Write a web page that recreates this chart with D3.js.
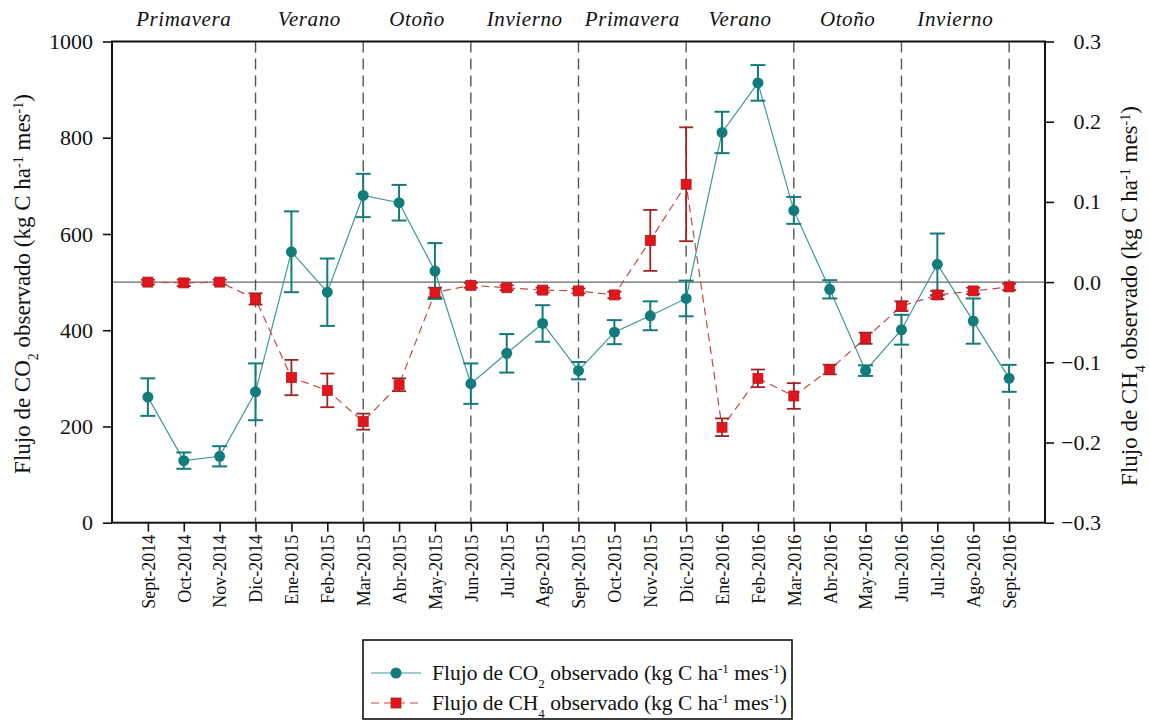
<!DOCTYPE html>
<html>
<head>
<meta charset="utf-8">
<script src="https://cdn.jsdelivr.net/npm/d3@7/dist/d3.min.js"></script>
<style>
  html, body { margin: 0; padding: 0; background: #fff; }
  svg { display: block; }
</style>
</head>
<body>
<svg id="chart" width="1149" height="721"></svg>
<script>
// Monthly observations, Sept 2014 – Sept 2016
const months = ["Sept-2014","Oct-2014","Nov-2014","Dic-2014","Ene-2015","Feb-2015","Mar-2015","Abr-2015","May-2015","Jun-2015","Jul-2015","Ago-2015","Sept-2015","Oct-2015","Nov-2015","Dic-2015","Ene-2016","Feb-2016","Mar-2016","Abr-2016","May-2016","Jun-2016","Jul-2016","Ago-2016","Sept-2016"];

// CO2 flux (kg C ha-1 mes-1) and its error
const co2 = [261,129,138,272,563,479,680,665,523,289,352,414,316,396,430,466,811,914,649,485,316,401,537,419,300];
const co2Err = [39,17,21,59,84,70,45,37,58,42,40,38,18,25,30,37,43,37,28,19,11,31,64,47,28];

// CH4 flux (kg C ha-1 mes-1) and its error
const ch4 = [0.000,-0.001,0.000,-0.021,-0.119,-0.135,-0.174,-0.128,-0.013,-0.004,-0.007,-0.010,-0.011,-0.016,0.052,0.122,-0.181,-0.120,-0.142,-0.109,-0.070,-0.030,-0.016,-0.011,-0.006];
const ch4Err = [0.003,0.004,0.003,0.007,0.022,0.021,0.010,0.008,0.006,0.003,0.003,0.003,0.003,0.004,0.038,0.071,0.011,0.011,0.016,0.006,0.007,0.006,0.005,0.004,0.004];

// Season dividers (months where a new season starts) and season names
const seasonBreaks = ["Dic-2014","Mar-2015","Jun-2015","Sept-2015","Dic-2015","Mar-2016","Jun-2016","Sept-2016"];
const seasons = ["Primavera","Verano","Otoño","Invierno","Primavera","Verano","Otoño","Invierno"];

const leftTicks = [0,200,400,600,800,1000];
const rightTicks = [-0.3,-0.2,-0.1,0.0,0.1,0.2,0.3];

const FONT = "'Liberation Serif', 'Times New Roman', Times, serif";

const m = { left: 112, right: 1045, top: 41.5, bottom: 522.7 };
const svg = d3.select("#chart").style("font-family", FONT);

const x = d3.scalePoint().domain(months).range([m.left, m.right]).padding(1);
const yL = d3.scaleLinear().domain([0, 1000]).range([m.bottom, m.top]);
const yR = d3.scaleLinear().domain([-0.3, 0.3]).range([m.bottom, m.top]);

const teal = "#127c7c", tealLine = "#3f9797";
const red = "#e3141a", redDark = "#a32222", redLine = "#c44a45";

// Season dividers
svg.append("g").selectAll("line").data(seasonBreaks).join("line")
  .attr("x1", d => x(d)).attr("x2", d => x(d))
  .attr("y1", m.top).attr("y2", m.bottom)
  .attr("stroke", "#555").attr("stroke-width", 1.4)
  .attr("stroke-dasharray", "11,6");

// Season names, centred between dividers
const bounds = [m.left].concat(seasonBreaks.map(d => x(d)));
svg.append("g").selectAll("text").data(seasons).join("text")
  .attr("x", (d, i) => (bounds[i] + bounds[i + 1]) / 2)
  .attr("y", 26)
  .attr("text-anchor", "middle")
  .attr("fill", "#111")
  .style("font-style", "italic")
  .style("font-size", "21px")
  .attr("letter-spacing", 0.6)
  .text(d => d);

// Zero reference line for CH4
svg.append("line")
  .attr("x1", m.left).attr("x2", m.right)
  .attr("y1", yR(0)).attr("y2", yR(0))
  .attr("stroke", "#444").attr("stroke-width", 1);

// Axes
const axL = svg.append("g").attr("transform", `translate(${m.left},0)`)
  .call(d3.axisLeft(yL).tickValues(leftTicks).tickSize(9).tickPadding(10).tickFormat(d3.format("d")));
const axR = svg.append("g").attr("transform", `translate(${m.right},0)`)
  .call(d3.axisRight(yR).tickValues(rightTicks).tickSize(9).tickPadding(9).tickFormat(d3.format(".1f")));
const axB = svg.append("g").attr("transform", `translate(0,${m.bottom})`)
  .call(d3.axisBottom(x).tickSize(9).tickPadding(6));

[axL, axR, axB].forEach(a => {
  a.attr("font-family", null);
  a.select(".domain").remove();
  a.selectAll(".tick line").attr("stroke", "#111").attr("stroke-width", 1.6);
  a.selectAll("text").style("font-family", FONT).attr("fill", "#111");
});
axL.selectAll("text").style("font-size", "22px");
// right-hand labels are right-aligned in a column
axR.selectAll("text").style("font-size", "22px")
  .attr("text-anchor", "end").attr("x", 56);
axB.selectAll("text")
  .style("font-size", "18px")
  .attr("transform", "rotate(-90)")
  .attr("text-anchor", "end")
  .attr("x", -12).attr("y", 0).attr("dy", "0.35em");

// Frame
svg.append("rect")
  .attr("x", m.left).attr("y", m.top)
  .attr("width", m.right - m.left).attr("height", m.bottom - m.top)
  .attr("fill", "none").attr("stroke", "#111").attr("stroke-width", 2);

// CO2 series
const gC = svg.append("g");
gC.append("path").datum(co2)
  .attr("fill", "none").attr("stroke", tealLine).attr("stroke-width", 1.2)
  .attr("d", d3.line().x((d, i) => x(months[i])).y(d => yL(d)));
const co2Bars = gC.selectAll("g.eb").data(co2).join("g").attr("class", "eb");
co2Bars.append("line")
  .attr("x1", (d, i) => x(months[i])).attr("x2", (d, i) => x(months[i]))
  .attr("y1", (d, i) => yL(d + co2Err[i])).attr("y2", (d, i) => yL(d - co2Err[i]))
  .attr("stroke", teal).attr("stroke-width", 2);
[1, -1].forEach(s => {
  co2Bars.append("line")
    .attr("x1", (d, i) => x(months[i]) - 7.5).attr("x2", (d, i) => x(months[i]) + 7.5)
    .attr("y1", (d, i) => yL(d + s * co2Err[i])).attr("y2", (d, i) => yL(d + s * co2Err[i]))
    .attr("stroke", teal).attr("stroke-width", 2);
});
gC.selectAll("circle").data(co2).join("circle")
  .attr("cx", (d, i) => x(months[i])).attr("cy", d => yL(d))
  .attr("r", 5.5).attr("fill", teal);

// CH4 series
const gM = svg.append("g");
gM.append("path").datum(ch4)
  .attr("fill", "none").attr("stroke", redLine).attr("stroke-width", 1.2)
  .attr("stroke-dasharray", "8,5")
  .attr("d", d3.line().x((d, i) => x(months[i])).y(d => yR(d)));
const ch4Bars = gM.selectAll("g.eb").data(ch4).join("g").attr("class", "eb");
ch4Bars.append("line")
  .attr("x1", (d, i) => x(months[i])).attr("x2", (d, i) => x(months[i]))
  .attr("y1", (d, i) => yR(d + ch4Err[i])).attr("y2", (d, i) => yR(d - ch4Err[i]))
  .attr("stroke", redDark).attr("stroke-width", 1.8);
[1, -1].forEach(s => {
  ch4Bars.append("line")
    .attr("x1", (d, i) => x(months[i]) - 7).attr("x2", (d, i) => x(months[i]) + 7)
    .attr("y1", (d, i) => yR(d + s * ch4Err[i])).attr("y2", (d, i) => yR(d + s * ch4Err[i]))
    .attr("stroke", redDark).attr("stroke-width", 1.8);
});
gM.selectAll("rect").data(ch4).join("rect")
  .attr("x", (d, i) => x(months[i]) - 5).attr("y", d => yR(d) - 5)
  .attr("width", 10).attr("height", 10)
  .attr("fill", red).attr("stroke", redDark).attr("stroke-width", 0.8);

// Axis titles with sub/superscripts
function title(g, parts, size) {
  const t = g.append("text").attr("text-anchor", "middle")
    .style("font-family", FONT).style("font-size", size + "px").attr("fill", "#111");
  parts.forEach(p => {
    const s = t.append("tspan").text(p[0]);
    if (p[1] === "sub") s.attr("baseline-shift", "sub").style("font-size", Math.round(size * 0.62) + "px");
    if (p[1] === "sup") s.attr("baseline-shift", "super").style("font-size", Math.round(size * 0.62) + "px");
  });
  return t;
}
const partsCO2 = [["Flujo de CO"],["2","sub"],[" observado (kg C ha"],["-1","sup"],[" mes"],["-1","sup"],[")"]];
const partsCH4 = [["Flujo de CH"],["4","sub"],[" observado (kg C ha"],["-1","sup"],[" mes"],["-1","sup"],[")"]];

title(svg.append("g").attr("transform", "translate(30,284) rotate(-90)"), partsCO2, 23);
title(svg.append("g").attr("transform", "translate(1137,296) rotate(-90)"), partsCH4, 23);

// Legend
const lg = svg.append("g").attr("transform", "translate(363,640)");
lg.append("rect").attr("width", 429).attr("height", 79)
  .attr("fill", "#fff").attr("stroke", "#111").attr("stroke-width", 1.6);
const rows = [
  { parts: partsCO2, y: 33, kind: "co2" },
  { parts: partsCH4, y: 63, kind: "ch4" }
];
rows.forEach(r => {
  const line = lg.append("line").attr("x1", 8).attr("x2", 58).attr("y1", r.y).attr("y2", r.y)
    .attr("stroke-width", 1.2);
  if (r.kind === "co2") {
    line.attr("stroke", tealLine);
    lg.append("circle").attr("cx", 33).attr("cy", r.y).attr("r", 5.5).attr("fill", teal);
  } else {
    line.attr("stroke", redLine).attr("stroke-dasharray", "8,5");
    lg.append("rect").attr("x", 28).attr("y", r.y - 5).attr("width", 10).attr("height", 10)
      .attr("fill", red).attr("stroke", redDark).attr("stroke-width", 0.8);
  }
  title(lg.append("g").attr("transform", `translate(69,${r.y + 7})`), r.parts, 21.5)
    .attr("text-anchor", "start");
});
</script>
</body>
</html>
